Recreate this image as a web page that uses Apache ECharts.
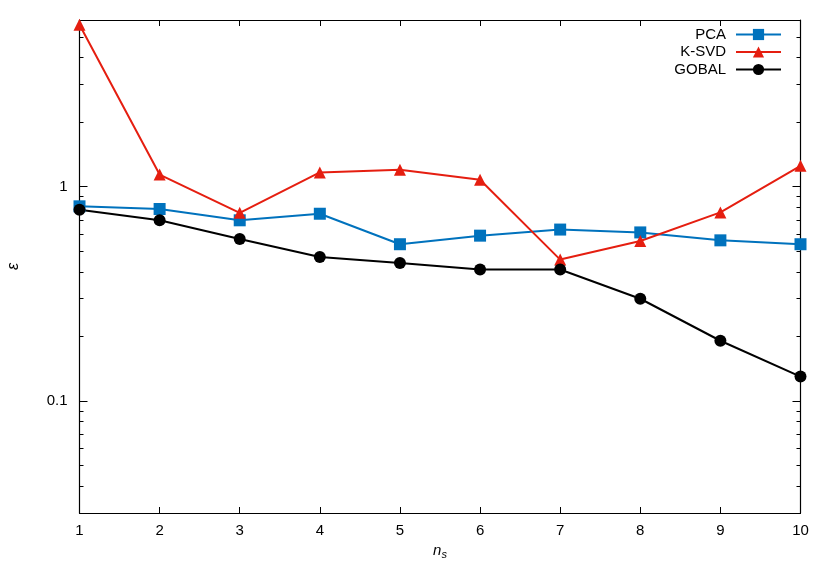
<!DOCTYPE html>
<html><head><meta charset="utf-8">
<script src="https://cdn.jsdelivr.net/npm/echarts@6/dist/echarts.min.js"></script>
<style>html,body{margin:0;padding:0;background:#fff}#c{width:830px;height:581px}</style>
</head><body><div id="c"></div>
<script>
const nsValues = [1, 2, 3, 4, 5, 6, 7, 8, 9, 10];
const pcaValues = [0.81, 0.787, 0.697, 0.748, 0.539, 0.591, 0.631, 0.612, 0.562, 0.539];
const ksvdValues = [5.7, 1.14, 0.755, 1.166, 1.2, 1.078, 0.457, 0.558, 0.759, 1.252];
const gobalValues = [0.781, 0.697, 0.570, 0.470, 0.441, 0.411, 0.411, 0.300, 0.191, 0.130];
const seriesNames = ['PCA', 'K-SVD', 'GOBAL'];
const yMinorTicks = [0.04, 0.05, 0.06, 0.07, 0.08, 0.09, 0.2, 0.3, 0.4, 0.5, 0.6, 0.7, 0.8, 0.9, 2, 3, 4, 5];
const yMin = 0.03, yMax = 6;
const xMin = 1, xMax = 10;

const FONT = '"Liberation Sans", Arial, sans-serif';
const frameLine = { show: true, onZero: false, lineStyle: { color: '#000', width: 1.2 } };
const chart = echarts.init(document.getElementById('c'), null, { renderer: 'canvas' });

function pairs(vals) { return nsValues.map((x, i) => [x, vals[i]]); }
function isDecade(v) { const l = Math.log10(v); return Math.abs(l - Math.round(l)) < 1e-6; }

const minorLog = yMinorTicks.map(v => Math.log10(v));
function minorAxis(pos) {
  return {
    type: 'value', position: pos, min: Math.log10(yMin), max: Math.log10(yMax),
    axisLine: { show: false, onZero: false }, splitLine: { show: false },
    axisLabel: { show: false },
    axisTick: { show: true, inside: true, length: 4, customValues: minorLog, lineStyle: { color: '#000', width: 1 } }
  };
}

const option = {
  backgroundColor: '#fff',
  animation: false,
  textStyle: { fontFamily: FONT },
  grid: { left: 79.5, right: 29.5, top: 20, bottom: 68, containLabel: false, outerBoundsMode: 'none' },
  legend: {
    orient: 'vertical', right: 43, top: 22, align: 'right',
    itemWidth: 45, itemHeight: 14, itemGap: 2.5,
    textStyle: { fontSize: 15, color: '#000', fontFamily: FONT, padding: [0, 5, 0, 0] },
    data: seriesNames
  },
  xAxis: [
    {
      type: 'value', position: 'bottom', min: xMin, max: xMax, interval: 1,
      axisLine: frameLine, splitLine: { show: false },
      axisTick: { inside: true, length: 6, lineStyle: { color: '#000', width: 1 } },
      axisLabel: { fontSize: 15, color: '#000', margin: 10, fontFamily: FONT },
      name: '{n|n}{s|s}', nameLocation: 'middle', nameGap: 24,
      nameTextStyle: {
        rich: {
          n: { fontSize: 15, fontStyle: 'italic', color: '#000', fontFamily: FONT },
          s: { fontSize: 11, fontStyle: 'italic', color: '#000', fontFamily: FONT, padding: [9, 0, 0, 0] }
        }
      }
    },
    {
      type: 'value', position: 'top', min: xMin, max: xMax, interval: 1,
      axisLine: frameLine, splitLine: { show: false },
      axisTick: { inside: true, length: 6, lineStyle: { color: '#000', width: 1 } },
      axisLabel: { show: false }
    }
  ],
  yAxis: [
    {
      type: 'log', logBase: 10, position: 'left', min: yMin, max: yMax,
      axisLine: frameLine, splitLine: { show: false }, minorTick: { show: false },
      axisTick: { inside: true, length: 8, lineStyle: { color: '#000', width: 1 } },
      axisLabel: { fontSize: 15, color: '#000', margin: 12, fontFamily: FONT,
        formatter: v => isDecade(v) ? String(+v.toPrecision(6)) : '' },
      name: 'ε', nameLocation: 'middle', nameGap: 58, nameRotate: 90,
      nameTextStyle: { fontSize: 16, fontStyle: 'italic', color: '#000', fontFamily: FONT }
    },
    {
      type: 'log', logBase: 10, position: 'right', min: yMin, max: yMax,
      axisLine: frameLine, splitLine: { show: false },
      axisTick: { inside: true, length: 8, lineStyle: { color: '#000', width: 1 } },
      axisLabel: { show: false }
    },
    minorAxis('left'),
    minorAxis('right')
  ],
  series: [
    {
      name: seriesNames[0], type: 'line', xAxisIndex: 0, yAxisIndex: 0, data: pairs(pcaValues),
      symbol: 'rect', symbolSize: 12, color: '#0072bd',
      lineStyle: { width: 2, color: '#0072bd' }, itemStyle: { color: '#0072bd' }
    },
    {
      name: seriesNames[1], type: 'line', xAxisIndex: 0, yAxisIndex: 0, data: pairs(ksvdValues),
      symbol: 'triangle', symbolSize: 12, color: '#e51e10',
      lineStyle: { width: 2, color: '#e51e10' }, itemStyle: { color: '#e51e10' }
    },
    {
      name: seriesNames[2], type: 'line', xAxisIndex: 0, yAxisIndex: 0, data: pairs(gobalValues),
      symbol: 'circle', symbolSize: 12, color: '#000',
      lineStyle: { width: 2, color: '#000' }, itemStyle: { color: '#000' }
    }
  ]
};
chart.setOption(option);
</script>
</body></html>
